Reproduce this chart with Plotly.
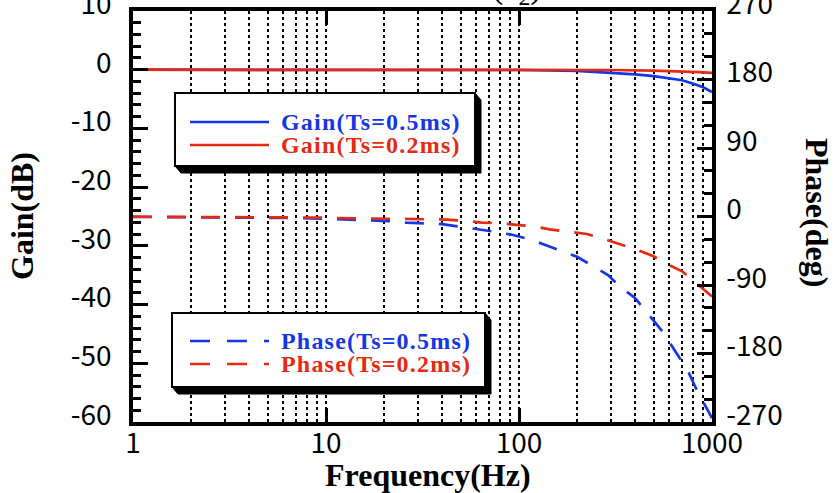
import plotly.graph_objects as go

# ---- data -------------------------------------------------------------
freq_gain_05 = [1, 100, 200, 300, 400, 500, 600, 700, 800, 900, 1000]
gain_05 = [0, -0.05, -0.2, -0.5, -0.8, -1.1, -1.45, -1.8, -2.4, -3.0, -3.8]

freq_gain_02 = [1, 100, 300, 500, 700, 770, 850, 1000]
gain_02 = [0, 0, -0.05, -0.15, -0.25, -0.3, -0.4, -0.55]

freq_phase_05 = [1, 2, 3, 5, 7, 10, 13, 17, 21, 26, 33, 40, 48, 63, 75, 92, 110,
                 136, 163, 200, 241, 289, 333, 399, 477, 557, 649, 748, 823, 927, 1000]
phase_05 = [-0.5, -0.8, -1, -1.5, -2, -3, -4, -5, -6, -8, -9, -10, -13, -17, -20, -24,
            -29, -37, -45, -53, -65, -77, -92, -107, -131, -152, -178, -202, -225, -250, -265]

freq_phase_02 = [1, 2, 3, 5, 7, 10, 11.4, 20, 27, 42, 55, 64, 80, 95, 120, 144, 180,
                 225, 280, 333, 420, 495, 580, 700, 850, 990, 1000]
phase_02 = [-0.2, -0.4, -0.5, -0.7, -1, -1.5, -2, -2.5, -3, -4, -6, -8, -9, -11, -13,
            -17, -20, -23, -30, -36, -45, -52, -62, -72, -90, -104, -105]

x_ticks = [1, 10, 100, 1000]
x_minor = [m * d for d in (1, 10, 100) for m in range(2, 10)]
gain_ticks = [10, 0, -10, -20, -30, -40, -50, -60]
phase_ticks = [270, 180, 90, 0, -90, -180, -270]

BLUE = "#1536e6"
RED = "#e62a12"
SERIF = "Liberation Serif"
SANS = "Noto Sans CJK JP"

W, H = 836, 493
X0, X1, Y0, Y1 = 133, 712, 11, 422   # plot area in pixels


def px(x):
    return (x - X0) / (X1 - X0)


def py(y):
    return (Y1 - y) / (Y1 - Y0)


fig = go.Figure()

fig.add_trace(go.Scatter(x=freq_gain_05, y=gain_05, mode="lines",
                         line=dict(color=BLUE, width=2.7), name="Gain(Ts=0.5ms)"))
fig.add_trace(go.Scatter(x=freq_gain_02, y=gain_02, mode="lines",
                         line=dict(color=RED, width=2.7), name="Gain(Ts=0.2ms)"))
fig.add_trace(go.Scatter(x=freq_phase_05, y=phase_05, mode="lines", yaxis="y2",
                         line=dict(color=BLUE, width=2.7, dash="19px,15px"),
                         name="Phase(Ts=0.5ms)"))
fig.add_trace(go.Scatter(x=freq_phase_02, y=phase_02, mode="lines", yaxis="y2",
                         line=dict(color=RED, width=2.7, dash="19px,15px"),
                         name="Phase(Ts=0.2ms)"))

tickfont = dict(family=SANS, size=28, color="black")

fig.update_layout(
    width=W, height=H,
    margin=dict(l=X0, r=W - X1, t=Y0, b=H - Y1, autoexpand=False),
    plot_bgcolor="white", paper_bgcolor="white",
    showlegend=False,
    xaxis=dict(
        type="log", range=[0, 3], tickvals=x_ticks, ticktext=[str(v) for v in x_ticks],
        ticks="inside", ticklen=14, tickwidth=2.5, tickcolor="black",
        showline=True, linewidth=3.5, linecolor="black", mirror="ticks",
        showgrid=True, gridcolor="black", gridwidth=1.5, griddash="3px,3px",
        minor=dict(tickvals=x_minor, showgrid=True, gridcolor="black",
                   gridwidth=1.5, griddash="3px,3px", ticks=""),
        tickfont=tickfont, ticklabelstandoff=-6, zeroline=False,
        ticklabeloverflow="allow", automargin=False,
    ),
    yaxis=dict(
        range=[-60, 10], tickvals=gain_ticks, ticktext=[str(v) for v in gain_ticks],
        ticks="inside", ticklen=15, tickwidth=2.5, tickcolor="black",
        minor=dict(dtick=2, tick0=0, ticks="inside", ticklen=8, tickwidth=2.5,
                   tickcolor="black"),
        showline=True, linewidth=3.5, linecolor="black",
        showgrid=False, zeroline=False,
        tickfont=tickfont, ticklabelstandoff=12, ticklabelshift=-7,
        ticklabeloverflow="allow", automargin=False,
    ),
    yaxis2=dict(
        overlaying="y", side="right", range=[-270, 270],
        tickvals=phase_ticks, ticktext=[str(v) for v in phase_ticks],
        ticks="inside", ticklen=15, tickwidth=2.5, tickcolor="black",
        minor=dict(dtick=30, tick0=0, ticks="inside", ticklen=8, tickwidth=2.5,
                   tickcolor="black"),
        showline=True, linewidth=3.5, linecolor="black",
        showgrid=False, zeroline=False,
        tickfont=tickfont, ticklabelstandoff=5, ticklabelshift=-7,
        ticklabeloverflow="allow", automargin=False,
    ),
)

# ---- axis titles ----------------------------------------------------
title_font = dict(family=SERIF, size=32, color="black", weight="bold")
common = dict(xref="paper", yref="paper", showarrow=False,
              xanchor="center", yanchor="middle")
fig.add_annotation(text="Frequency(Hz)", x=px(428), y=py(475), font=title_font, **common)
fig.add_annotation(text="Gain(dB)", x=px(22), y=py(216), font=title_font,
                   textangle=-90, **common)
fig.add_annotation(text="Phase(deg)", x=px(817), y=py(212), font=title_font,
                   textangle=90, **common)
# title line above the frame (only its lower edge falls inside the page)
fig.add_annotation(text="(z<sub>2</sub>)", x=px(517), y=py(12), xref="paper", yref="paper",
                   xanchor="center", yanchor="bottom", showarrow=False,
                   font=dict(family=SERIF, size=34, color="black"))


# ---- legend boxes with drop shadow -----------------------------------
def legend_box(x0, y0, x1, y1, dx, dy):
    path = (f"M {px(x0)},{py(y1)} L {px(x1)},{py(y1)} L {px(x1)},{py(y0)} "
            f"L {px(x1 + dx)},{py(y0 + dy)} L {px(x1 + dx)},{py(y1 + dy)} "
            f"L {px(x0 + dx)},{py(y1 + dy)} Z")
    fig.add_shape(type="path", path=path, xref="paper", yref="paper",
                  fillcolor="black", line=dict(color="black", width=1), layer="above")
    fig.add_shape(type="rect", x0=px(x0), x1=px(x1), y0=py(y1), y1=py(y0),
                  xref="paper", yref="paper", fillcolor="white",
                  line=dict(color="black", width=2), layer="above")


def legend_entry(y, color, label, dash):
    fig.add_shape(type="line", x0=px(190), x1=px(269), y0=py(y), y1=py(y),
                  xref="paper", yref="paper", layer="above",
                  line=dict(color=color, width=2.5, dash=dash))
    fig.add_annotation(text=f'<span style="letter-spacing:1.2px">{label}</span>',
                       x=px(279), y=py(y), xref="paper", yref="paper",
                       xanchor="left", yanchor="middle", showarrow=False,
                       font=dict(family=SERIF, size=24, color=color, weight="bold"))


legend_box(175, 93, 475, 166, 6, 7)
legend_entry(122, BLUE, "Gain(Ts=0.5ms)", "solid")
legend_entry(145, RED, "Gain(Ts=0.2ms)", "solid")

legend_box(172, 313, 485, 387, 6, 7)
legend_entry(341, BLUE, "Phase(Ts=0.5ms)", "20px,17px")
legend_entry(364, RED, "Phase(Ts=0.2ms)", "20px,17px")

fig.write_html("out.html")
